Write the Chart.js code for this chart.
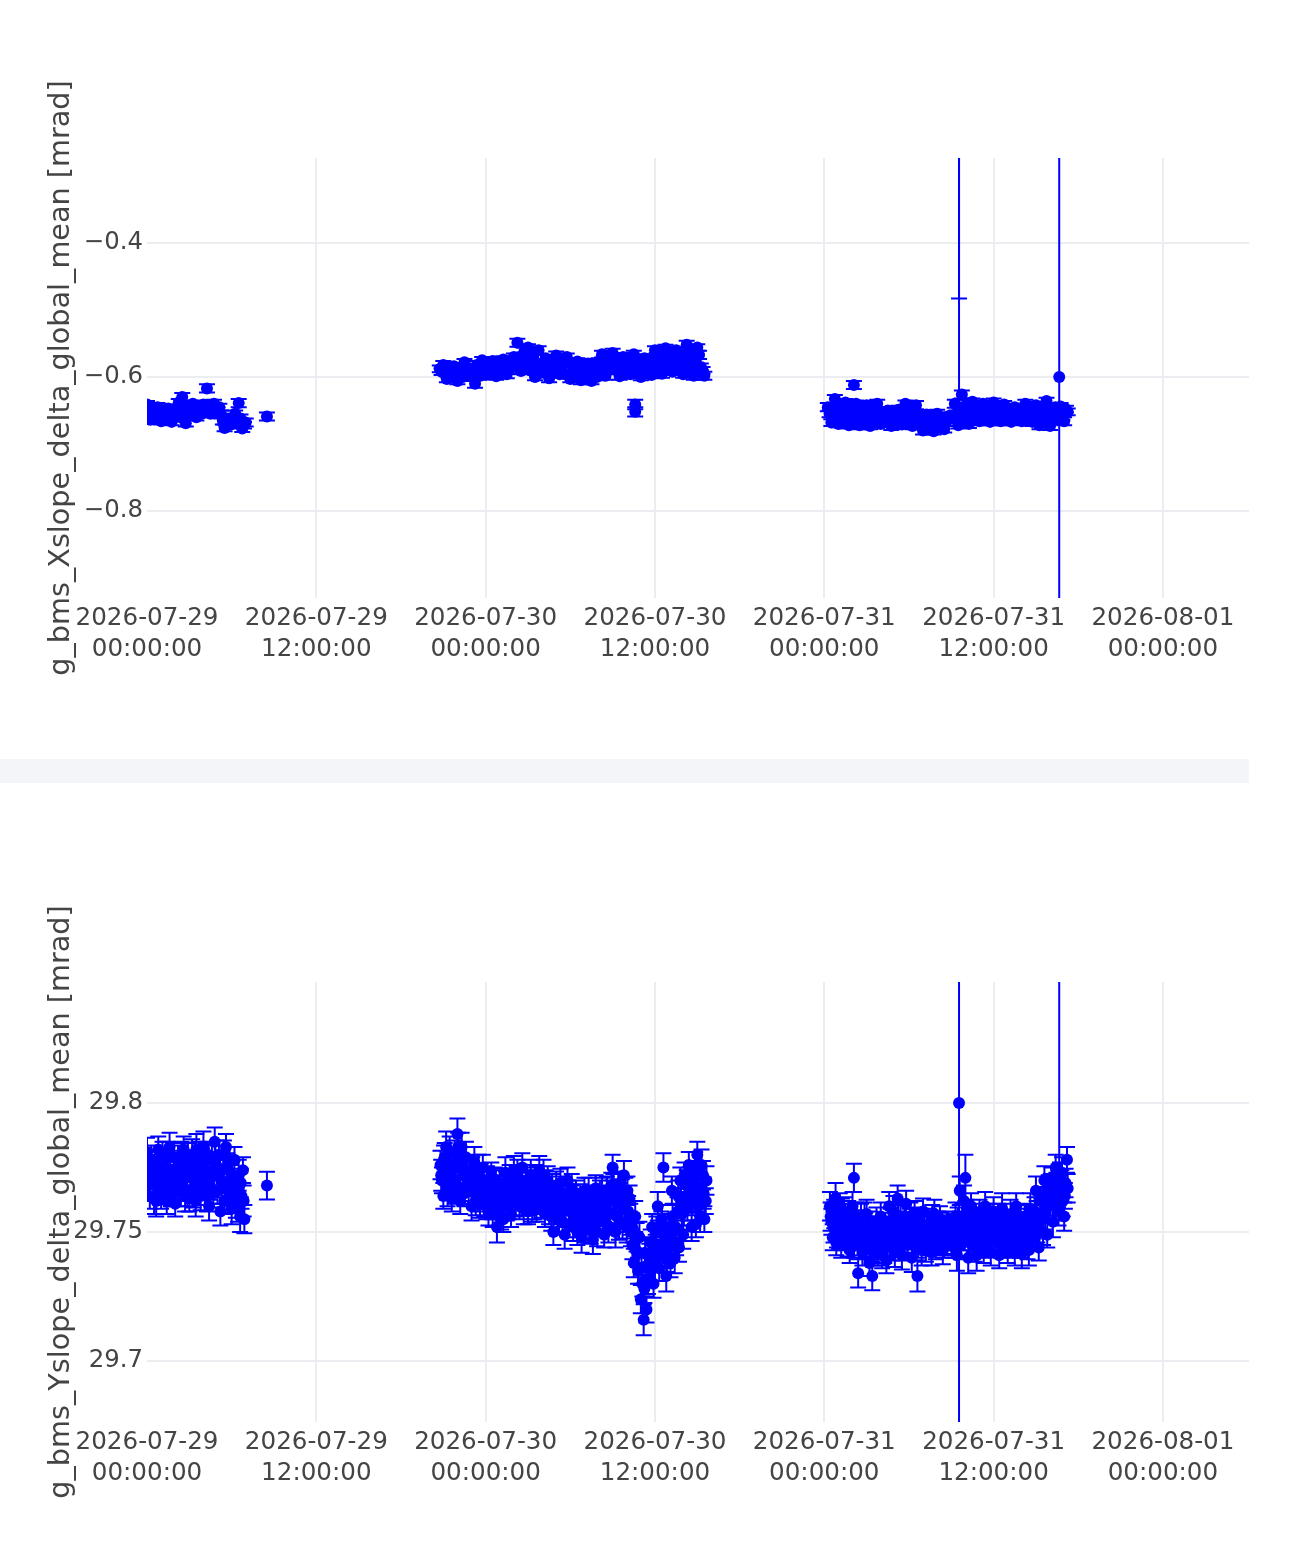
<!DOCTYPE html>
<html>
<head>
<meta charset="utf-8">
<title>g_bms slope monitor</title>
<script src="https://cdn.jsdelivr.net/npm/chart.js@4.4.1/dist/chart.umd.min.js"></script>
<style>
  html, body { margin: 0; padding: 0; background: #fff; }
  body { width: 1289px; height: 1544px; position: relative; overflow: hidden; }
  .panel { position: absolute; left: 0; width: 1289px; }
  #topPanel { top: 0; height: 760px; }
  #bottomPanel { top: 782px; height: 762px; }
  #divider { position: absolute; left: 0; top: 759px; width: 1249px; height: 24px; background: #f4f5f9; }
</style>
</head>
<body>
<div id="divider"></div>
<div class="panel" id="topPanel"><canvas id="topChart"></canvas></div>
<div class="panel" id="bottomPanel"><canvas id="bottomChart"></canvas></div>
<script>
// x = hours since 2026-07-29 00:00:00
const xTickHours = [0, 12, 24, 36, 48, 60, 72];
const xTickDates = ["2026-07-29", "2026-07-29", "2026-07-30", "2026-07-30", "2026-07-31", "2026-07-31", "2026-08-01"];
const xTickTimes = ["00:00:00", "12:00:00", "00:00:00", "12:00:00", "00:00:00", "12:00:00", "00:00:00"];

// ---- top panel: g_bms_Xslope_delta_global_mean ----
const topYTicks = [-0.8, -0.6, -0.4];
const topYLabels = ["\u22120.8", "\u22120.6", "\u22120.4"];

const topHours = [
  // 29 Jul
  0.00,0.25,0.50,0.75,1.00,1.25,1.50,1.75,2.00,2.25,
  2.50,2.75,3.00,3.25,3.50,3.75,4.00,4.25,4.50,4.75,
  5.00,5.25,5.50,5.75,6.00,6.25,6.50,6.75,7.00,8.50,
  0.125,0.375,0.625,0.875,1.125,1.375,1.625,1.875,2.125,2.375,
  2.625,2.875,3.125,3.375,3.625,3.875,4.125,4.375,4.625,4.875,
  5.125,5.375,5.625,5.875,6.125,6.375,6.625,6.875,
  // 29-30 Jul
  20.75,21.00,21.25,21.50,21.75,22.00,22.25,22.50,
  22.75,23.00,23.25,23.50,23.75,24.00,24.25,24.50,24.75,25.00,
  25.25,25.50,25.75,26.00,26.25,26.50,26.75,27.00,27.25,27.50,
  27.75,28.00,28.25,28.50,28.75,29.00,29.25,29.50,29.75,30.00,
  30.25,30.50,30.75,31.00,31.25,31.50,31.75,32.00,32.25,32.50,
  32.75,33.00,33.25,33.50,33.75,34.00,34.25,34.50,34.75,35.00,
  35.25,35.50,35.75,36.00,36.25,36.50,36.75,37.00,37.25,37.50,
  37.75,38.00,38.25,38.50,38.75,39.00,39.25,39.50,
  34.60,34.60,
  20.875,21.125,21.375,21.625,21.875,22.125,22.375,22.625,22.875,23.125,
  23.375,23.625,23.875,24.125,24.375,24.625,24.875,25.125,25.375,25.625,
  25.875,26.125,26.375,26.625,26.875,27.125,27.375,27.625,27.875,28.125,
  28.375,28.625,28.875,29.125,29.375,29.625,29.875,30.125,30.375,30.625,
  30.875,31.125,31.375,31.625,31.875,32.125,32.375,32.625,32.875,33.125,
  33.375,33.625,33.875,34.125,34.375,34.625,34.875,35.125,35.375,35.625,
  35.875,36.125,36.375,36.625,36.875,37.125,37.375,37.625,37.875,38.125,
  38.375,38.625,38.875,39.125,39.375,
  // 31 Jul
  48.25,48.50,48.75,49.00,49.25,49.50,49.75,50.00,50.10,
  50.25,50.50,50.75,51.00,51.25,51.50,51.75,52.00,52.25,52.50,
  52.75,53.00,53.25,53.50,53.75,54.00,54.25,54.50,54.75,55.00,
  55.25,55.50,55.75,56.00,56.25,56.50,56.75,57.00,57.25,57.50,
  57.75,58.00,58.25,58.50,58.75,59.00,59.25,59.50,59.75,60.00,
  60.25,60.50,60.75,61.00,61.25,61.50,61.75,62.00,62.25,62.50,
  62.75,63.00,63.25,63.50,63.75,64.00,64.25,64.50,64.75,65.00,
  65.25,
  48.375,48.625,48.875,49.125,49.375,49.625,49.875,50.125,50.375,50.625,
  50.875,51.125,51.375,51.625,51.875,52.125,52.375,52.625,52.875,53.125,
  53.375,53.625,53.875,54.125,54.375,54.625,54.875,55.125,55.375,55.625,
  55.875,56.125,56.375,56.625,56.875,57.125,57.375,57.625,57.875,58.125,
  58.375,58.625,58.875,59.125,59.375,59.625,59.875,60.125,60.375,60.625,
  60.875,61.125,61.375,61.625,61.875,62.125,62.375,62.625,62.875,63.125,
  63.375,63.625,63.875,64.125,64.375,64.625,64.875,65.125
];
const topValues = [
  -0.641,-0.664,-0.652,-0.645,-0.666,-0.656,-0.647,-0.667,-0.655,-0.638,
  -0.630,-0.669,-0.650,-0.640,-0.660,-0.648,-0.641,-0.617,-0.655,-0.640,
  -0.650,-0.656,-0.676,-0.662,-0.670,-0.655,-0.639,-0.677,-0.668,-0.659,
  -0.655,-0.648,-0.660,-0.652,-0.659,-0.650,-0.661,-0.653,-0.646,-0.660,
  -0.652,-0.643,-0.655,-0.650,-0.645,-0.655,-0.648,-0.645,-0.648,-0.652,
  -0.645,-0.665,-0.668,-0.671,-0.662,-0.668,-0.662,-0.672,
  -0.588,-0.582,-0.603,-0.592,-0.584,-0.606,-0.594,-0.578,
  -0.598,-0.588,-0.610,-0.590,-0.575,-0.597,-0.586,-0.576,-0.599,-0.585,
  -0.574,-0.596,-0.583,-0.570,-0.549,-0.591,-0.562,-0.556,-0.583,-0.600,
  -0.560,-0.588,-0.572,-0.602,-0.583,-0.568,-0.596,-0.580,-0.570,-0.603,
  -0.587,-0.577,-0.605,-0.591,-0.580,-0.606,-0.592,-0.578,-0.566,-0.598,
  -0.580,-0.564,-0.590,-0.599,-0.570,-0.582,-0.596,-0.566,-0.588,-0.600,
  -0.572,-0.584,-0.597,-0.560,-0.580,-0.595,-0.557,-0.575,-0.592,-0.560,
  -0.583,-0.596,-0.552,-0.572,-0.598,-0.556,-0.585,-0.598,
  -0.641,-0.652,
  -0.592,-0.590,-0.596,-0.588,-0.597,-0.590,-0.600,-0.586,-0.590,-0.596,
  -0.582,-0.598,-0.588,-0.580,-0.592,-0.588,-0.580,-0.592,-0.584,-0.590,
  -0.578,-0.585,-0.570,-0.580,-0.572,-0.590,-0.570,-0.580,-0.594,-0.580,
  -0.592,-0.576,-0.592,-0.582,-0.588,-0.596,-0.578,-0.595,-0.582,-0.597,
  -0.586,-0.598,-0.594,-0.585,-0.600,-0.588,-0.574,-0.590,-0.572,-0.582,
  -0.576,-0.588,-0.592,-0.575,-0.588,-0.580,-0.594,-0.578,-0.592,-0.575,
  -0.588,-0.570,-0.588,-0.568,-0.585,-0.566,-0.578,-0.590,-0.568,-0.586,
  -0.563,-0.585,-0.575,-0.567,-0.590,
  -0.645,-0.668,-0.633,-0.670,-0.655,-0.638,-0.672,-0.650,-0.612,
  -0.640,-0.672,-0.655,-0.642,-0.673,-0.657,-0.640,-0.670,-0.655,-0.650,
  -0.673,-0.660,-0.649,-0.671,-0.640,-0.658,-0.673,-0.642,-0.662,-0.680,
  -0.656,-0.668,-0.681,-0.655,-0.670,-0.678,-0.660,-0.658,-0.640,-0.672,
  -0.626,-0.655,-0.670,-0.637,-0.660,-0.666,-0.640,-0.655,-0.667,-0.638,
  -0.660,-0.666,-0.641,-0.655,-0.667,-0.645,-0.660,-0.666,-0.640,-0.656,
  -0.667,-0.642,-0.672,-0.655,-0.636,-0.673,-0.650,-0.663,-0.644,-0.666,
  -0.652,
  -0.655,-0.645,-0.660,-0.645,-0.662,-0.652,-0.660,-0.646,-0.660,-0.648,
  -0.665,-0.652,-0.646,-0.665,-0.650,-0.662,-0.666,-0.660,-0.655,-0.666,
  -0.660,-0.652,-0.665,-0.648,-0.660,-0.655,-0.670,-0.668,-0.662,-0.675,
  -0.665,-0.660,-0.666,-0.668,-0.658,-0.662,-0.655,-0.662,-0.645,-0.640,
  -0.660,-0.650,-0.645,-0.655,-0.662,-0.648,-0.655,-0.650,-0.652,-0.658,
  -0.648,-0.660,-0.652,-0.664,-0.650,-0.656,-0.662,-0.648,-0.655,-0.660,
  -0.648,-0.664,-0.655,-0.660,-0.645,-0.655,-0.658,-0.648
];
const topErrors = [
  0.005,0.006,0.005,0.006,0.005,0.006,0.005,0.005,0.006,0.005,
  0.006,0.005,0.006,0.005,0.005,0.006,0.005,0.006,0.005,0.006,
  0.005,0.006,0.005,0.005,0.006,0.005,0.006,0.005,0.006,0.006,
  0.006,0.005,0.005,0.006,0.005,0.006,0.005,0.006,0.005,0.005,
  0.006,0.005,0.006,0.005,0.006,0.005,0.005,0.006,0.005,0.006,
  0.005,0.006,0.005,0.006,0.005,0.005,0.006,0.005,
  0.005,0.006,0.005,0.006,0.005,0.005,0.006,0.005,
  0.006,0.005,0.006,0.005,0.005,0.006,0.005,0.006,0.005,0.006,
  0.005,0.006,0.005,0.005,0.006,0.005,0.006,0.005,0.006,0.005,
  0.006,0.005,0.005,0.006,0.005,0.006,0.005,0.006,0.005,0.005,
  0.006,0.005,0.006,0.005,0.006,0.005,0.005,0.006,0.005,0.006,
  0.005,0.006,0.005,0.005,0.006,0.005,0.006,0.005,0.006,0.005,
  0.006,0.005,0.005,0.006,0.005,0.006,0.005,0.006,0.005,0.005,
  0.006,0.005,0.006,0.005,0.006,0.005,0.005,0.006,
  0.007,0.007,
  0.005,0.006,0.005,0.005,0.006,0.005,0.006,0.005,0.006,0.005,
  0.006,0.005,0.005,0.006,0.005,0.006,0.005,0.006,0.005,0.005,
  0.006,0.005,0.006,0.005,0.006,0.005,0.005,0.006,0.005,0.006,
  0.005,0.006,0.005,0.005,0.006,0.005,0.006,0.005,0.006,0.005,
  0.006,0.005,0.005,0.006,0.005,0.006,0.005,0.006,0.005,0.005,
  0.006,0.005,0.006,0.005,0.006,0.005,0.005,0.006,0.005,0.006,
  0.005,0.006,0.005,0.005,0.006,0.005,0.006,0.005,0.006,0.005,
  0.006,0.005,0.005,0.006,0.005,
  0.006,0.005,0.006,0.005,0.006,0.005,0.005,0.006,0.006,
  0.005,0.006,0.005,0.006,0.005,0.005,0.006,0.005,0.006,0.005,
  0.006,0.005,0.006,0.005,0.005,0.006,0.005,0.006,0.005,0.006,
  0.005,0.006,0.005,0.006,0.005,0.005,0.006,0.005,0.006,0.005,
  0.006,0.005,0.006,0.005,0.005,0.006,0.005,0.006,0.005,0.006,
  0.005,0.006,0.005,0.006,0.005,0.005,0.006,0.005,0.006,0.005,
  0.006,0.005,0.006,0.005,0.005,0.006,0.005,0.006,0.005,0.006,
  0.005,
  0.005,0.006,0.005,0.006,0.005,0.005,0.006,0.005,0.006,0.005,
  0.006,0.005,0.006,0.005,0.005,0.006,0.005,0.006,0.005,0.006,
  0.005,0.006,0.005,0.006,0.005,0.005,0.006,0.005,0.006,0.005,
  0.006,0.005,0.006,0.005,0.005,0.006,0.005,0.006,0.005,0.006,
  0.005,0.006,0.005,0.006,0.005,0.005,0.006,0.005,0.006,0.005,
  0.006,0.005,0.006,0.005,0.005,0.006,0.005,0.006,0.005,0.006,
  0.005,0.006,0.005,0.006,0.005,0.005,0.006,0.005
];
// points with very large error bars (31 Jul)
const topSpikeHours = [57.55, 57.55, 64.65];
const topSpikeValues = [-0.100, -0.645, -0.600];
const topSpikeUp = [0.400, 0.800, 0.600];
const topSpikeDown = [0.383, 0.000, 0.600];

// ---- bottom panel: g_bms_Yslope_delta_global_mean ----
const bottomYTicks = [29.7, 29.75, 29.8];
const bottomYLabels = ["29.7", "29.75", "29.8"];

const bottomHours = [
  // 29 Jul
  0.0,0.2,0.4,0.6,0.8,1.0,1.2,1.4,1.6,1.8,
  2.0,2.2,2.4,2.6,2.8,3.0,3.2,3.4,3.6,3.8,
  4.0,4.2,4.4,4.6,4.8,5.0,5.2,5.4,5.6,5.8,
  6.0,6.2,6.4,6.6,6.8,6.9,8.5,
  0.1,0.3,0.5,0.7,0.9,1.1,1.3,1.5,1.7,1.9,
  2.1,2.3,2.5,2.7,2.9,3.1,3.3,3.5,3.7,3.9,
  4.1,4.3,4.5,4.7,4.9,5.1,5.3,5.5,5.7,5.9,
  6.1,6.3,6.5,6.7,
  0.05,0.25,0.45,0.65,0.85,1.05,1.25,1.45,1.65,1.85,
  2.05,2.25,2.45,2.65,2.85,3.05,3.25,3.45,3.65,3.85,
  4.05,4.25,4.45,4.65,4.85,5.05,5.25,5.45,5.65,5.85,
  6.05,6.25,6.45,6.65,6.85,
  // 29-30 Jul
  20.8,21.0,21.2,21.4,21.6,21.8,22.0,22.2,22.4,22.6,
  22.8,23.0,23.2,23.4,23.6,23.8,24.0,24.2,24.4,24.6,
  24.8,25.0,25.2,25.4,25.6,25.8,26.0,26.2,26.4,26.6,
  26.8,27.0,27.2,27.4,27.6,27.8,28.0,28.2,28.4,28.6,
  28.8,29.0,29.2,29.4,29.6,29.8,30.0,30.2,30.4,30.6,
  30.8,31.0,31.2,31.4,31.6,31.8,32.0,32.2,32.4,32.6,
  32.8,33.0,33.2,33.4,33.6,33.8,34.0,34.2,34.4,34.6,
  34.8,35.0,35.2,35.4,35.6,35.8,36.0,36.2,36.4,36.6,
  36.8,37.0,37.2,37.4,37.6,37.8,38.0,38.2,38.4,38.6,
  38.8,39.0,39.2,39.4,39.6,
  34.5,34.9,35.1,35.3,35.5,35.7,35.9,36.1,36.3,36.5,
  36.7,36.9,37.1,37.3,37.5,37.7,
  20.9,21.1,21.3,21.5,21.7,21.9,22.1,22.3,22.5,22.7,
  22.9,23.1,23.3,23.5,23.7,23.9,24.1,24.3,24.5,24.7,
  24.9,25.1,25.3,25.5,25.7,25.9,26.1,26.3,26.5,26.7,
  26.9,27.1,27.3,27.5,27.7,27.9,28.1,28.3,28.5,28.7,
  28.9,29.1,29.3,29.5,29.7,29.9,30.1,30.3,30.5,30.7,
  30.9,31.1,31.3,31.5,31.7,31.9,32.1,32.3,32.5,32.7,
  32.9,33.1,33.3,33.5,33.7,33.9,34.1,34.3,
  34.7,
  37.9,38.1,38.3,38.5,38.7,38.9,39.1,39.3,39.5,
  20.85,21.05,21.25,21.45,21.65,21.85,22.05,22.25,22.45,22.65,
  22.85,23.05,23.25,23.45,23.65,23.85,24.05,24.25,24.45,24.65,
  24.85,25.05,25.25,25.45,25.65,25.85,26.05,26.25,26.45,26.65,
  26.85,27.05,27.25,27.45,27.65,27.85,28.05,28.25,28.45,28.65,
  28.85,29.05,29.25,29.45,29.65,29.85,30.05,30.25,30.45,30.65,
  30.85,31.05,31.25,31.45,31.65,31.85,32.05,32.25,32.45,32.65,
  32.85,33.05,33.25,33.45,33.65,33.85,34.05,34.25,34.45,34.65,
  34.85,35.05,35.25,35.45,35.65,35.85,36.05,36.25,36.45,36.65,
  36.85,37.05,37.25,37.45,37.65,37.85,38.05,38.25,38.45,38.65,
  38.85,39.05,39.25,39.45,39.65,
  // 31 Jul
  48.4,48.6,48.8,49.0,49.2,49.4,49.6,49.8,50.0,50.1,
  50.2,50.4,50.6,50.8,51.0,51.2,51.4,51.6,51.8,52.0,
  52.2,52.4,52.6,52.8,53.0,53.2,53.4,53.6,53.8,54.0,
  54.2,54.4,54.6,54.8,55.0,55.2,55.4,55.6,55.8,56.0,
  56.2,56.4,56.6,56.8,57.0,57.2,57.4,57.6,57.8,58.0,
  58.2,58.4,58.6,58.8,59.0,59.2,59.4,59.6,59.8,60.0,
  60.2,60.4,60.6,60.8,61.0,61.2,61.4,61.6,61.8,62.0,
  62.2,62.4,62.6,62.8,63.0,63.2,63.4,63.6,63.8,64.0,
  64.2,64.4,64.6,64.8,65.0,65.2,
  48.5,48.7,48.9,49.1,49.3,49.5,49.7,49.9,50.1,50.3,
  50.5,50.7,50.9,51.1,51.3,51.5,51.7,51.9,52.1,52.3,
  52.5,52.7,52.9,53.1,53.3,53.5,53.7,53.9,54.1,54.3,
  54.5,54.7,54.9,55.1,55.3,55.5,55.7,55.9,56.1,56.3,
  56.5,56.7,56.9,57.1,57.3,57.5,57.7,57.9,58.1,58.3,
  58.5,58.7,58.9,59.1,59.3,59.5,59.7,59.9,60.1,60.3,
  60.5,60.7,60.9,61.1,61.3,61.5,61.7,61.9,62.1,62.3,
  62.5,62.7,62.9,63.1,63.3,63.5,63.7,63.9,64.1,64.3,
  64.5,64.7,64.9,65.1,
  48.45,48.65,48.85,49.05,49.25,49.45,49.65,49.85,50.05,50.25,
  50.45,50.65,50.85,51.05,51.25,51.45,51.65,51.85,52.05,52.25,
  52.45,52.65,52.85,53.05,53.25,53.45,53.65,53.85,54.05,54.25,
  54.45,54.65,54.85,55.05,55.25,55.45,55.65,55.85,56.05,56.25,
  56.45,56.65,56.85,57.05,57.25,57.45,57.65,57.85,58.05,58.25,
  58.45,58.65,58.85,59.05,59.25,59.45,59.65,59.85,60.05,60.25,
  60.45,60.65,60.85,61.05,61.25,61.45,61.65,61.85,62.05,62.25,
  62.45,62.65,62.85,63.05,63.25,63.45,63.65,63.85,64.05,64.25,
  64.45,64.65,64.85,65.05,65.25
];
const bottomValues = [
  29.781,29.764,29.774,29.768,29.782,29.765,29.776,29.762,29.783,29.770,
  29.761,29.778,29.766,29.782,29.772,29.763,29.780,29.768,29.775,29.764,
  29.783,29.770,29.760,29.778,29.785,29.766,29.758,29.774,29.783,29.763,
  29.759,29.778,29.768,29.756,29.774,29.755,29.768,
  29.772,29.778,29.763,29.776,29.771,29.780,29.768,29.774,29.765,29.779,
  29.769,29.772,29.776,29.764,29.779,29.771,29.765,29.782,29.769,29.777,
  29.766,29.780,29.771,29.765,29.776,29.780,29.767,29.762,29.775,29.770,
  29.766,29.761,29.772,29.764,
  29.768,29.777,29.770,29.762,29.774,29.770,29.766,29.779,29.772,29.765,
  29.774,29.768,29.780,29.771,29.766,29.776,29.772,29.762,29.780,29.772,
  29.775,29.764,29.768,29.773,29.778,29.772,29.770,29.780,29.768,29.778,
  29.772,29.766,29.759,29.769,29.762,
  29.776,29.764,29.783,29.769,29.763,29.780,29.788,29.762,29.772,29.779,
  29.766,29.760,29.777,29.769,29.761,29.775,29.765,29.758,29.772,29.764,
  29.752,29.769,29.760,29.773,29.765,29.757,29.774,29.768,29.760,29.775,
  29.764,29.758,29.772,29.766,29.759,29.774,29.767,29.757,29.770,29.762,
  29.750,29.768,29.756,29.764,29.749,29.770,29.758,29.752,29.765,29.758,
  29.748,29.766,29.755,29.762,29.747,29.767,29.754,29.760,29.749,29.766,
  29.757,29.775,29.750,29.768,29.760,29.772,29.752,29.763,29.745,29.756,
  29.735,29.724,29.716,29.720,29.740,29.752,29.737,29.760,29.745,29.775,
  29.733,29.752,29.766,29.740,29.758,29.770,29.749,29.764,29.776,29.752,
  29.768,29.780,29.756,29.772,29.762,
  29.738,29.748,29.730,29.742,29.732,29.746,29.730,29.750,29.736,29.755,
  29.742,29.748,29.738,29.750,29.746,29.744,
  29.770,29.779,29.766,29.775,29.770,29.766,29.775,29.783,29.765,29.771,
  29.773,29.767,29.762,29.774,29.768,29.761,29.770,29.765,29.757,29.769,
  29.761,29.756,29.766,29.760,29.771,29.764,29.762,29.771,29.766,29.759,
  29.770,29.765,29.760,29.771,29.766,29.762,29.772,29.763,29.758,29.767,
  29.762,29.755,29.769,29.758,29.763,29.753,29.767,29.759,29.750,29.763,
  29.757,29.751,29.765,29.756,29.760,29.750,29.764,29.756,29.759,29.752,
  29.768,29.762,29.756,29.764,29.753,29.766,29.758,29.750,
  29.748,
  29.757,29.772,29.760,29.766,29.772,29.753,29.765,29.776,29.755,
  29.772,29.778,29.768,29.781,29.774,29.769,29.783,29.777,29.767,29.774,
  29.770,29.773,29.765,29.763,29.771,29.768,29.760,29.768,29.761,29.770,
  29.766,29.763,29.755,29.768,29.761,29.769,29.765,29.772,29.769,29.762,
  29.768,29.762,29.768,29.761,29.770,29.765,29.761,29.768,29.764,29.756,
  29.758,29.762,29.766,29.754,29.760,29.764,29.763,29.756,29.760,29.753,
  29.761,29.758,29.760,29.751,29.755,29.762,29.758,29.765,29.754,29.762,
  29.762,29.767,29.758,29.753,29.765,29.760,29.766,29.755,29.751,29.743,
  29.742,29.736,29.728,29.737,29.735,29.742,29.744,29.740,29.752,29.746,
  29.740,29.744,29.756,29.752,29.764,29.762,29.758,29.768,29.770,29.762,
  29.775,29.760,29.767,29.765,29.770,
  29.760,29.748,29.763,29.755,29.745,29.758,29.750,29.743,29.760,29.771,
  29.748,29.734,29.755,29.745,29.757,29.738,29.733,29.750,29.742,29.756,
  29.746,29.739,29.760,29.750,29.742,29.763,29.755,29.745,29.761,29.750,
  29.740,29.757,29.733,29.748,29.758,29.744,29.753,29.742,29.757,29.747,
  29.755,29.743,29.750,29.748,29.747,29.752,29.741,29.766,29.756,29.771,
  29.740,29.760,29.748,29.741,29.757,29.745,29.760,29.751,29.742,29.758,
  29.747,29.741,29.759,29.750,29.743,29.757,29.746,29.760,29.752,29.742,
  29.756,29.745,29.759,29.748,29.766,29.744,29.756,29.770,29.749,29.762,
  29.754,29.775,29.758,29.768,29.756,29.778,
  29.754,29.757,29.750,29.760,29.752,29.748,29.756,29.752,29.745,29.756,
  29.750,29.742,29.752,29.748,29.745,29.742,29.754,29.748,29.741,29.752,
  29.745,29.754,29.758,29.748,29.752,29.741,29.756,29.745,29.756,29.748,
  29.744,29.754,29.743,29.751,29.748,29.746,29.752,29.745,29.750,29.752,
  29.746,29.753,29.749,29.746,29.756,29.748,29.745,29.762,29.750,29.746,
  29.754,29.756,29.750,29.752,29.743,29.746,29.755,29.749,29.753,29.755,
  29.745,29.746,29.755,29.750,29.752,29.742,29.748,29.755,29.749,29.752,
  29.743,29.754,29.758,29.752,29.762,29.750,29.759,29.766,29.770,29.760,
  29.765,29.772,29.762,29.769,
  29.756,29.752,29.746,29.749,29.757,29.752,29.746,29.755,29.752,29.753,
  29.747,29.750,29.756,29.750,29.753,29.746,29.744,29.751,29.750,29.744,
  29.750,29.746,29.745,29.752,29.756,29.748,29.752,29.749,29.753,29.754,
  29.750,29.746,29.753,29.748,29.750,29.749,29.755,29.751,29.753,29.747,
  29.750,29.746,29.751,29.749,29.745,29.754,29.752,29.748,29.757,29.753,
  29.750,29.744,29.753,29.748,29.752,29.754,29.746,29.752,29.749,29.751,
  29.753,29.752,29.746,29.753,29.748,29.753,29.752,29.746,29.752,29.748,
  29.753,29.750,29.753,29.756,29.750,29.762,29.757,29.760,29.767,29.765,
  29.768,29.763,29.773,29.764,29.767
];
const bottomErrors = [
  0.0055,0.005,0.006,0.0055,0.005,0.006,0.0055,0.005,0.0055,0.006,
  0.005,0.0055,0.006,0.005,0.0055,0.005,0.006,0.0055,0.005,0.0055,
  0.006,0.005,0.0055,0.006,0.0055,0.005,0.0055,0.006,0.005,0.0055,
  0.006,0.005,0.0055,0.006,0.005,0.0055,0.0054,
  0.005,0.0055,0.006,0.005,0.0055,0.005,0.006,0.0055,0.005,0.0055,
  0.006,0.005,0.0055,0.006,0.0055,0.005,0.0055,0.006,0.005,0.0055,
  0.0055,0.005,0.006,0.0055,0.005,0.0055,0.006,0.005,0.0055,0.006,
  0.005,0.0055,0.006,0.005,
  0.006,0.005,0.0055,0.006,0.005,0.0055,0.005,0.006,0.0055,0.005,
  0.0055,0.006,0.005,0.0055,0.006,0.005,0.0055,0.006,0.005,0.0055,
  0.005,0.006,0.0055,0.005,0.0055,0.006,0.005,0.0055,0.006,0.005,
  0.0055,0.006,0.005,0.0055,0.006,
  0.0055,0.005,0.006,0.0055,0.005,0.0055,0.006,0.005,0.0055,0.006,
  0.005,0.0055,0.006,0.005,0.0055,0.005,0.006,0.0055,0.005,0.0055,
  0.006,0.005,0.0055,0.006,0.0055,0.005,0.0055,0.006,0.005,0.0055,
  0.0055,0.005,0.006,0.0055,0.005,0.0055,0.006,0.005,0.0055,0.006,
  0.005,0.0055,0.006,0.005,0.0055,0.005,0.006,0.0055,0.005,0.0055,
  0.006,0.005,0.0055,0.006,0.0055,0.005,0.0055,0.006,0.005,0.0055,
  0.0055,0.005,0.006,0.0055,0.005,0.0055,0.006,0.005,0.0055,0.006,
  0.005,0.0055,0.006,0.005,0.0055,0.005,0.006,0.0055,0.005,0.0055,
  0.006,0.005,0.0055,0.006,0.0055,0.005,0.0055,0.006,0.005,0.0055,
  0.0055,0.005,0.006,0.0055,0.005,
  0.0055,0.006,0.005,0.0055,0.006,0.005,0.0055,0.006,0.005,0.0055,
  0.006,0.005,0.0055,0.006,0.005,0.0055,
  0.005,0.0055,0.006,0.005,0.0055,0.005,0.006,0.0055,0.005,0.0055,
  0.006,0.005,0.0055,0.006,0.0055,0.005,0.0055,0.006,0.005,0.0055,
  0.0055,0.005,0.006,0.0055,0.005,0.0055,0.006,0.005,0.0055,0.006,
  0.005,0.0055,0.006,0.005,0.0055,0.005,0.006,0.0055,0.005,0.0055,
  0.006,0.005,0.0055,0.006,0.0055,0.005,0.0055,0.006,0.005,0.0055,
  0.0055,0.005,0.006,0.0055,0.005,0.0055,0.006,0.005,0.0055,0.006,
  0.005,0.0055,0.006,0.005,0.0055,0.005,0.006,0.0055,
  0.0055,
  0.006,0.005,0.0055,0.006,0.0055,0.005,0.0055,0.006,0.005,
  0.006,0.0055,0.005,0.006,0.0055,0.005,0.0055,0.006,0.005,0.0055,
  0.005,0.006,0.0055,0.005,0.0055,0.006,0.005,0.0055,0.006,0.005,
  0.0055,0.006,0.005,0.0055,0.006,0.005,0.0055,0.006,0.005,0.0055,
  0.006,0.0055,0.005,0.006,0.0055,0.005,0.0055,0.006,0.005,0.0055,
  0.005,0.006,0.0055,0.005,0.0055,0.006,0.005,0.0055,0.006,0.005,
  0.0055,0.006,0.005,0.0055,0.006,0.005,0.0055,0.006,0.005,0.0055,
  0.006,0.0055,0.005,0.006,0.0055,0.005,0.0055,0.006,0.005,0.0055,
  0.005,0.006,0.0055,0.005,0.0055,0.006,0.005,0.0055,0.006,0.005,
  0.0055,0.006,0.005,0.0055,0.006,0.005,0.0055,0.006,0.005,0.0055,
  0.006,0.0055,0.005,0.006,0.0055,
  0.0055,0.005,0.006,0.0055,0.005,0.0055,0.006,0.005,0.0055,0.0055,
  0.005,0.0055,0.006,0.005,0.0055,0.005,0.0055,0.0055,0.005,0.0055,
  0.006,0.005,0.0055,0.006,0.0055,0.005,0.0055,0.006,0.005,0.0055,
  0.0055,0.005,0.006,0.0055,0.005,0.0055,0.006,0.005,0.0055,0.006,
  0.005,0.0055,0.006,0.005,0.0055,0.005,0.006,0.0055,0.005,0.009,
  0.006,0.005,0.0055,0.006,0.0055,0.005,0.0055,0.006,0.005,0.0055,
  0.0055,0.005,0.006,0.0055,0.005,0.0055,0.006,0.005,0.0055,0.006,
  0.005,0.0055,0.006,0.005,0.0055,0.005,0.006,0.0055,0.005,0.0055,
  0.006,0.005,0.0055,0.006,0.0055,0.005,
  0.005,0.0055,0.006,0.005,0.0055,0.005,0.006,0.0055,0.005,0.0055,
  0.006,0.005,0.0055,0.006,0.0055,0.005,0.0055,0.006,0.005,0.0055,
  0.0055,0.005,0.006,0.0055,0.005,0.0055,0.006,0.005,0.0055,0.006,
  0.005,0.0055,0.006,0.005,0.0055,0.005,0.006,0.0055,0.005,0.0055,
  0.006,0.005,0.0055,0.006,0.0055,0.005,0.0055,0.006,0.005,0.0055,
  0.0055,0.005,0.006,0.0055,0.005,0.0055,0.006,0.005,0.0055,0.006,
  0.005,0.0055,0.006,0.005,0.0055,0.005,0.006,0.0055,0.005,0.0055,
  0.006,0.005,0.0055,0.006,0.0055,0.005,0.0055,0.006,0.005,0.0055,
  0.0055,0.005,0.006,0.0055,
  0.0055,0.006,0.005,0.0055,0.006,0.005,0.0055,0.006,0.005,0.0055,
  0.006,0.005,0.0055,0.006,0.005,0.0055,0.006,0.005,0.0055,0.006,
  0.005,0.0055,0.006,0.005,0.0055,0.006,0.005,0.0055,0.006,0.005,
  0.0055,0.006,0.005,0.0055,0.006,0.005,0.0055,0.006,0.005,0.0055,
  0.006,0.005,0.0055,0.006,0.005,0.0055,0.006,0.005,0.0055,0.006,
  0.005,0.0055,0.006,0.005,0.0055,0.006,0.005,0.0055,0.006,0.005,
  0.0055,0.006,0.005,0.0055,0.006,0.005,0.0055,0.006,0.005,0.0055,
  0.006,0.005,0.0055,0.006,0.005,0.0055,0.006,0.005,0.0055,0.006,
  0.005,0.0055,0.006,0.005,0.0055
];
const bottomSpikeHours = [57.55, 64.65];
const bottomSpikeValues = [29.800, 29.770];
const bottomSpikeUp = [0.200, 0.200];
const bottomSpikeDown = [0.200, 0.005];

const FONT = "'DejaVu Sans', Verdana, sans-serif";
const TEXT = "#444";
const GRID = "#ebedf1";
const MARK = "#0000ff";

// vertical error bars with caps, clipped to plot area
const errorBars = {
  id: "errorBars",
  beforeDatasetsDraw(chart) {
    const { ctx, chartArea: a, scales: { x, y } } = chart;
    ctx.save();
    ctx.beginPath();
    ctx.rect(a.left, a.top, a.right - a.left, a.bottom - a.top);
    ctx.clip();
    ctx.strokeStyle = MARK;
    ctx.lineWidth = 2;
    chart.data.datasets[0].data.forEach(p => {
      if (p.up === undefined) return;
      const px = x.getPixelForValue(p.x);
      const hi = y.getPixelForValue(p.y + p.up);
      const lo = y.getPixelForValue(p.y - p.down);
      ctx.beginPath();
      ctx.moveTo(px, hi); ctx.lineTo(px, lo);
      ctx.moveTo(px - 8, hi); ctx.lineTo(px + 8, hi);
      ctx.moveTo(px - 8, lo); ctx.lineTo(px + 8, lo);
      ctx.stroke();
    });
    ctx.restore();
  }
};

function makeChart(id, c) {
  const points = c.hours.map((h, i) => ({ x: h, y: c.values[i], up: c.errors[i], down: c.errors[i] }));
  c.spikeHours.forEach((h, i) => points.push({ x: h, y: c.spikeValues[i], up: c.spikeUp[i], down: c.spikeDown[i] }));

  return new Chart(document.getElementById(id), {
    type: "scatter",
    data: {
      datasets: [{
        data: points,
        pointRadius: 6,
        pointBackgroundColor: MARK,
        pointBorderWidth: 0,
        clip: 0
      }]
    },
    options: {
      responsive: true,
      maintainAspectRatio: false,
      animation: false,
      events: [],
      layout: { padding: { top: c.padTop, right: 40, bottom: 0, left: 0 } },
      plugins: { legend: { display: false }, tooltip: { enabled: false } },
      scales: {
        x: {
          type: "linear",
          min: 0,
          max: 78.1,
          afterBuildTicks: s => { s.ticks = xTickHours.map(v => ({ value: v })); },
          afterFit: s => { s.height = c.xAxisHeight; },
          border: { display: false },
          grid: {
            color: g => (g.tick && g.tick.value === 0) ? "rgba(0,0,0,0)" : GRID,
            lineWidth: 2,
            drawTicks: false
          },
          ticks: {
            autoSkip: false,
            maxRotation: 0,
            padding: 5,
            color: TEXT,
            font: { family: FONT, size: 24.6, lineHeight: 1.25 },
            callback: (v, i) => [xTickDates[i], xTickTimes[i]]
          }
        },
        y: {
          min: c.yMin,
          max: c.yMax,
          afterBuildTicks: s => { s.ticks = c.yTicks.map(v => ({ value: v })); },
          afterFit: s => { s.width = 147; },
          border: { display: false },
          grid: { color: GRID, lineWidth: 2, drawTicks: false },
          ticks: {
            padding: 4,
            color: TEXT,
            font: { family: FONT, size: 24.4 },
            callback: (v, i) => c.yLabels[i]
          },
          title: {
            display: true,
            text: c.title,
            color: TEXT,
            font: { family: FONT, size: 28.7 },
            padding: { top: 44, bottom: 0 }
          }
        }
      }
    },
    plugins: [errorBars]
  });
}

makeChart("topChart", {
  hours: topHours, values: topValues, errors: topErrors,
  spikeHours: topSpikeHours, spikeValues: topSpikeValues, spikeUp: topSpikeUp, spikeDown: topSpikeDown,
  yTicks: topYTicks, yLabels: topYLabels,
  yMin: -0.9299, yMax: -0.2731,
  padTop: 158, xAxisHeight: 162,
  title: "g_bms_Xslope_delta_global_mean [mrad]"
});

makeChart("bottomChart", {
  hours: bottomHours, values: bottomValues, errors: bottomErrors,
  spikeHours: bottomSpikeHours, spikeValues: bottomSpikeValues, spikeUp: bottomSpikeUp, spikeDown: bottomSpikeDown,
  yTicks: bottomYTicks, yLabels: bottomYLabels,
  yMin: 29.6764, yMax: 29.8469,
  padTop: 200, xAxisHeight: 122,
  title: "g_bms_Yslope_delta_global_mean [mrad]"
});
</script>
</body>
</html>
